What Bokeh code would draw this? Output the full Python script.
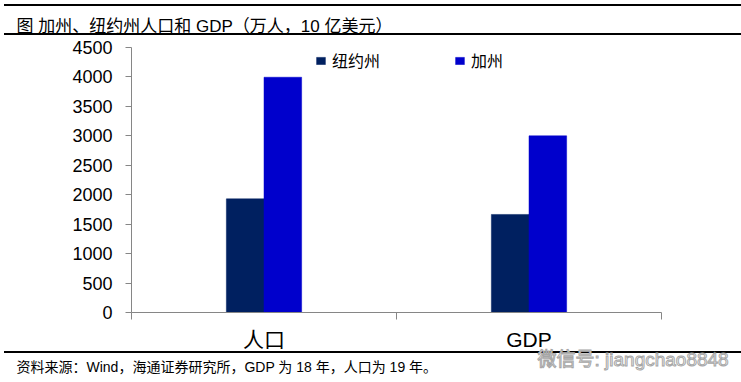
from bokeh.plotting import figure
from bokeh.models import (Range1d, FixedTicker, Legend, LegendItem,
                          ColumnDataSource, Title)
from bokeh.embed import file_html
from bokeh.resources import INLINE

# ---- data ----
categories = ["人口", "GDP"]
series_names = ["纽约州", "加州"]
ny_values = [1930, 1665]
ca_values = [3995, 3000]
y_ticks = [0, 500, 1000, 1500, 2000, 2500, 3000, 3500, 4000, 4500]

title_text = "图 加州、纽约州人口和 GDP（万人，10 亿美元）"
source_text = "资料来源：Wind，海通证券研究所，GDP 为 18 年，人口为 19 年。"
watermark_text = "微信号: jiangchao8848"

NY_COLOR = "#002060"
CA_COLOR = "#0000CC"
AXIS_COLOR = "#868686"
LATIN_CJK = "Liberation Sans, Noto Sans CJK SC"

n = len(categories)
bw = 0.142
centers = [i + 0.5 for i in range(n)]
src = ColumnDataSource(dict(
    x_ny=[c - bw / 2 for c in centers],
    x_ca=[c + bw / 2 for c in centers],
    ny=ny_values,
    ca=ca_values,
))

p = figure(width=741, height=382,
           x_range=Range1d(0, n), y_range=Range1d(0, 4500),
           output_backend="svg", toolbar_location=None,
           min_border_left=131, min_border_right=80,
           min_border_top=47, min_border_bottom=70)
p.outline_line_color = None
p.grid.grid_line_color = None
p.background_fill_color = None
p.border_fill_color = None
# horizontal rules of the report page (drawn behind the transparent canvas)
p.styles = {
    "background": (
        "linear-gradient(#000,#000) 4px 4px / calc(100% - 4px) 2px no-repeat, "
        "linear-gradient(#000,#000) 4px 33px / calc(100% - 4px) 2px no-repeat, "
        "linear-gradient(#000,#000) 4px 351px / calc(100% - 4px) 2px no-repeat, "
        "#ffffff"
    )
}

r_ny = p.vbar(x="x_ny", top="ny", width=bw, bottom=0, source=src,
              fill_color=NY_COLOR, line_color=NY_COLOR, line_width=0.5)
r_ca = p.vbar(x="x_ca", top="ca", width=bw, bottom=0, source=src,
              fill_color=CA_COLOR, line_color=CA_COLOR, line_width=0.5)

# y axis
ya = p.yaxis[0]
ya.ticker = FixedTicker(ticks=y_ticks, minor_ticks=[])
ya.axis_line_color = AXIS_COLOR
ya.major_tick_line_color = AXIS_COLOR
ya.major_tick_out = 6
ya.major_tick_in = 0
ya.minor_tick_line_color = None
ya.major_label_standoff = 13
ya.major_label_text_font = "Liberation Sans"
ya.major_label_text_font_size = "18px"
ya.major_label_text_color = "#000000"

# x axis: labels at category centres, ticks at category boundaries
xa = p.xaxis[0]
xa.ticker = FixedTicker(ticks=centers, minor_ticks=[float(i) for i in range(n + 1)])
xa.major_label_overrides = {c: cat for c, cat in zip(centers, categories)}
xa.axis_line_color = AXIS_COLOR
xa.major_tick_line_color = None
xa.major_tick_out = 0
xa.major_tick_in = 0
xa.minor_tick_line_color = AXIS_COLOR
xa.minor_tick_out = 7
xa.minor_tick_in = 0
xa.major_label_standoff = 8
xa.major_label_text_font = LATIN_CJK
xa.major_label_text_font_size = "21px"
xa.major_label_text_color = "#000000"

# legend
legend = Legend(items=[LegendItem(label=series_names[0], renderers=[r_ny]),
                       LegendItem(label=series_names[1], renderers=[r_ca])],
                orientation="horizontal", location=(184, 240),
                glyph_width=11, glyph_height=9, label_standoff=6, spacing=74,
                padding=0, margin=0, border_line_color=None,
                background_fill_alpha=0, label_height=20,
                label_text_font="Noto Sans CJK SC", label_text_font_size="16px",
                label_text_color="#000000")
p.add_layout(legend)

# page title (above) and watermark / source note (below)
p.add_layout(Title(text=title_text, align="left", offset=-115, standoff=24,
                   text_font=LATIN_CJK, text_font_size="17px",
                   text_font_style="normal", text_color="#000000"), "above")
p.add_layout(Title(text=watermark_text, align="left", offset=406, standoff=-33,
                   text_font=LATIN_CJK, text_font_size="19px",
                   text_font_style="normal", text_color="#ffffff",
                   text_outline_color="#a6a6a6"), "below")
p.add_layout(Title(text=source_text, align="left", offset=-115, standoff=7,
                   text_font=LATIN_CJK, text_font_size="14px",
                   text_font_style="normal", text_color="#000000"), "below")

open("out.html", "w").write(file_html(p, INLINE))
